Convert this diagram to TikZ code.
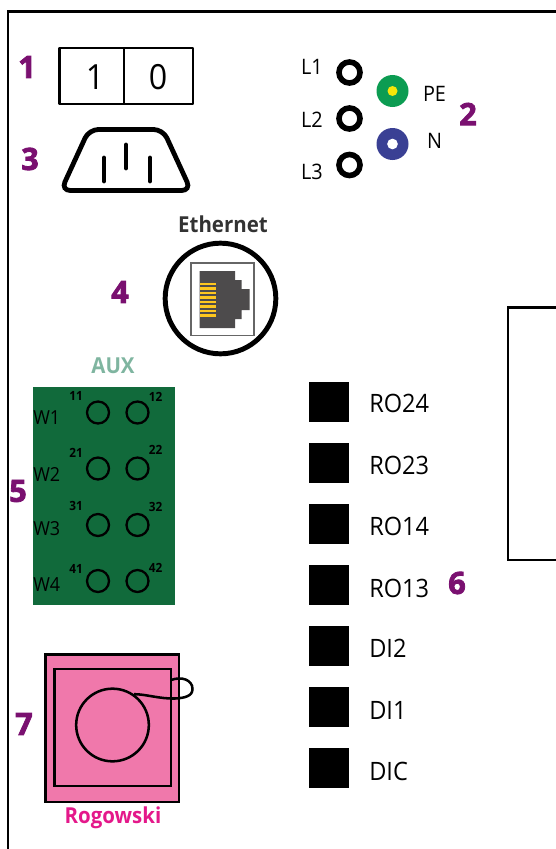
\documentclass[tikz,border=0pt]{standalone}
\usepackage{fontspec}
\setmainfont[FakeStretch=0.93]{Open Sans}
\newfontfamily\heavyfont[FakeBold=2.6]{Open Sans}
\usetikzlibrary{calc}
\definecolor{callout}{RGB}{122,16,112}
\definecolor{auxgreen}{RGB}{17,106,59}
\definecolor{auxlabel}{RGB}{127,181,160}
\definecolor{peGreen}{RGB}{12,156,82}
\definecolor{peYellow}{RGB}{245,230,10}
\definecolor{nBlue}{RGB}{58,64,148}
\definecolor{jackgray}{RGB}{77,75,76}
\definecolor{pinyellow}{RGB}{253,198,30}
\definecolor{rogoPink}{RGB}{240,120,171}
\definecolor{rogoLabel}{RGB}{228,24,138}
\tikzset{
    callout/.style={font=\fontsize{23}{23}\selectfont\heavyfont\bfseries, text=callout, inner sep=0pt},
    terminal/.style={circle, draw=black, line width=4.2pt, minimum size=15.8pt, inner sep=0pt},
    earth/.style={circle, fill=#1, minimum size=24pt, inner sep=0pt},
    lbl/.style={font=\fontsize{16}{16}\selectfont, inner sep=0pt},
    wirelbl/.style={font=\fontsize{14.5}{15}\selectfont, inner sep=0pt, anchor=west},
    outlbl/.style={font=\fontsize{19}{19}\selectfont, inner sep=0pt, anchor=west},
    auxpin/.style={circle, draw=black, line width=1.7pt, minimum size=16.5pt, inner sep=0pt},
    auxnum/.style={font=\fontsize{9.5}{10}\selectfont\bfseries, inner sep=0pt},
    outbox/.style={fill=black, minimum size=30pt, inner sep=0pt}
}
\begin{document}
\begin{tikzpicture}[x=0.75pt, y=-0.75pt]
    \useasboundingbox (0,0) rectangle (556,849);
    \draw[line width=2pt] (8,849) -- (8,11.5) -- (556,11.5);
    \draw[line width=1.6pt] (556,307.5) -- (508,307.5) -- (508,560) -- (556,560);

    \node[callout] (num1) at (27,67) {1};
    \node[callout] (num2) at (468,114) {2};
    \node[callout] (num3) at (30,159) {3};
    \node[callout] (num4) at (120,292) {4};
    \node[callout] (num5) at (18,491) {5};
    \node[callout] (num6) at (457,583) {6};
    \node[callout] (num7) at (24,724) {7};

    \draw[line width=1.6pt, line join=round] (59.5,48) rectangle (193,104);
    \draw[line width=1.6pt] (124,48) -- (124,104);
    \node[font=\fontsize{26}{26}\selectfont, inner sep=0pt] (swon) at (95,77) {1};
    \node[font=\fontsize{26}{26}\selectfont, inner sep=0pt] (swoff) at (158,77) {0};

    \draw[line width=3.6pt, rounded corners=7pt] (61,190.5) -- (89,129.5) -- (163,129.5) -- (191,190.5) -- cycle;
    \draw[line width=3.6pt, line cap=round] (104,158) -- (104,181);
    \draw[line width=3.6pt, line cap=round] (126,145) -- (126,168);
    \draw[line width=3.6pt, line cap=round] (150,158) -- (150,181);

    \node[terminal] (l1) at (349.5,72.5) {};
    \node[terminal] (l2) at (349.5,118.5) {};
    \node[terminal] (l3) at (349.5,165) {};
    \node[lbl] (l1lbl) at (312,67) {L1};
    \node[lbl] (l2lbl) at (312,120) {L2};
    \node[lbl] (l3lbl) at (312,172) {L3};
    \node[earth=peGreen] (pe) at (392.5,91) {};
    \node[circle, fill=peYellow, minimum size=7.5pt, inner sep=0pt] (pecore) at (392.5,91) {};
    \node[earth=nBlue] (n) at (392.5,144) {};
    \node[circle, fill=white, minimum size=8pt, inner sep=0pt] (ncore) at (392.5,144) {};
    \node[lbl] (pelbl) at (434.5,93.5) {PE};
    \node[lbl] (nlbl) at (434.5,141) {N};

    \node[font=\fontsize{16.5}{17}\selectfont\bfseries, text=black!80, inner sep=0pt] (eth) at (223,224.5) {Ethernet};
    \node[circle, draw=black, line width=3.7pt, minimum size=83pt, inner sep=0pt] (ethring) at (220.5,298.5) {};
    \draw[draw=black!60, line width=1pt] (191,263) rectangle (254,335.5);
    \fill[jackgray] (199.5,271) -- (235,271) -- (235,280) -- (241.5,280) -- (241.5,289) -- (249.5,289)
        -- (249.5,310) -- (241.5,310) -- (241.5,319) -- (235,319) -- (235,328) -- (199.5,328) -- cycle;
    \foreach \i in {0,...,7}
        \fill[pinyellow] (200,{283+4.45*\i}) rectangle (216,{285.4+4.45*\i});

    \node[font=\fontsize{16.5}{17}\selectfont\bfseries, text=auxlabel, inner sep=0pt] (aux) at (113,366) {AUX};
    \fill[auxgreen] (33,387) rectangle (175,605);
    \foreach \r/\y/\wy/\ay/\by in {1/412.5/418/395.5/397, 2/468.5/474/453/450, 3/525/529/506/507, 4/581/585/569/568} {
        \node[auxpin] (p\r1) at (98,\y) {};
        \node[auxpin] (p\r2) at (137.5,\y) {};
        \node[wirelbl] (w\r) at (33,\wy) {W\r};
        \node[auxnum] (t\r1) at (76,\ay) {\r1};
        \node[auxnum] (t\r2) at (155.5,\by) {\r2};
    }

    \foreach \name/\y/\ly in {RO24/402/403.5, RO23/463/465.5, RO14/524/526.5, RO13/585/588.5, DI2/646/648.5, DI1/707/710.5, DIC/768/771.5} {
        \node[outbox] (box\name) at (329,\y) {};
        \node[outlbl] (lbl\name) at (369,\ly) {\name};
    }

    \draw[line width=2pt, fill=rogoPink] (45.5,654.5) rectangle (179,802);
    \draw[line width=2pt] (54.5,669) rectangle (171,786);
    \node[circle, draw=black, line width=1.9pt, minimum size=54.5pt, inner sep=0pt] (coil) at (112.5,725) {};
    \coordinate (tail) at (171,680);
    \draw[line width=1.9pt] (coil.55) .. controls (145,694) and (160,699) .. (175,698.5)
        .. controls (185,698) and (192.5,696) .. (192.5,689)
        .. controls (192.5,680) and (182,676) .. (tail);
    \node[font=\fontsize{16.5}{17}\selectfont\bfseries, text=rogoLabel, inner sep=0pt] (rogo) at (113,817.5) {Rogowski};
\end{tikzpicture}
\end{document}
